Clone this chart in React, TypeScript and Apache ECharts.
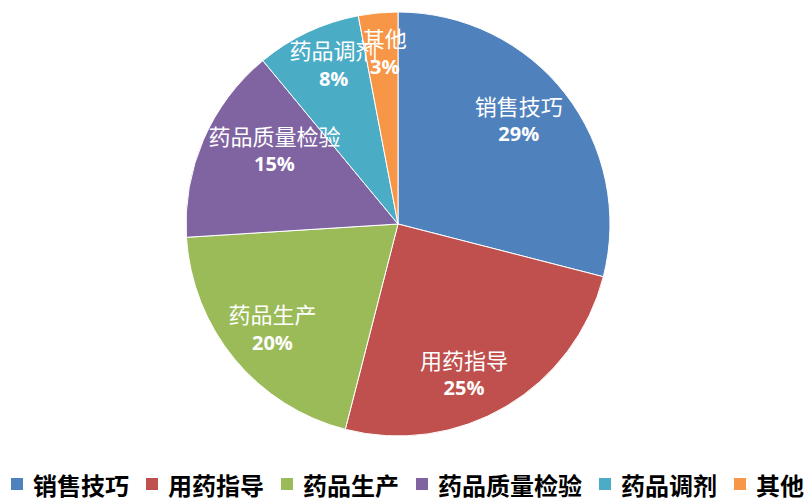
import React, { useEffect, useRef } from "react";
import * as echarts from "echarts";

const categories = ["销售技巧", "用药指导", "药品生产", "药品质量检验", "药品调剂", "其他"];
const values = [29, 25, 20, 15, 8, 3];
const colors = ["#4F81BD", "#C0504D", "#9BBB59", "#8064A2", "#4BACC6", "#F79646"];
// small label nudges (px) to mimic the original layout
const labelOffsets = [
  [-8, -5],
  [-17, 9],
  [0, 0],
  [26, -10],
  [5, -13],
  [2, -10],
];

export default function App() {
  const ref = useRef<HTMLDivElement>(null);
  useEffect(() => {
    if (!ref.current) return;
    const chart = echarts.init(ref.current, null, { renderer: "svg" });
    const data = categories.map((name, i) => ({
      name,
      value: values[i],
      itemStyle: { color: colors[i] },
    }));
    chart.setOption({
      animation: false,
      backgroundColor: "#ffffff",
      legend: {
        data: categories,
        left: 9,
        top: 472,
        padding: 0,
        width: 796,
        icon: "rect",
        itemWidth: 14,
        itemHeight: 14,
        itemGap: 15,
        textStyle: {
          fontSize: 24,
          lineHeight: 24,
          fontWeight: "bold",
          color: "#000",
          fontFamily: "Noto Sans CJK SC",
          padding: [0, 0, 0, 4],
        },
      },
      series: [
        {
          type: "pie",
          center: [398, 224],
          radius: [0, 212],
          startAngle: 90,
          clockwise: true,
          data,
          label: { show: false },
          labelLine: { show: false },
          itemStyle: { borderColor: "#ffffff", borderWidth: 1 },
          emphasis: { disabled: true },
        },
        {
          type: "pie",
          center: [398, 224],
          radius: [108, 212],
          startAngle: 90,
          clockwise: true,
          silent: true,
          avoidLabelOverlap: false,
          data: categories.map((name, i) => ({
            name,
            value: values[i],
            label: { offset: labelOffsets[i] },
          })),
          itemStyle: { color: "rgba(0,0,0,0)", borderWidth: 0 },
          emphasis: { disabled: true },
          labelLine: { show: false },
          labelLayout: { hideOverlap: false },
          label: {
            show: true,
            position: "inside",
            overflow: "none",
            formatter: (p: any) => `{n|${p.name}}\n{p|${p.value}%}`,
            rich: {
              n: {
                fontSize: 22,
                color: "#ffffff",
                fontFamily: "Noto Sans CJK SC",
                lineHeight: 29,
                align: "center",
              },
              p: {
                fontSize: 20,
                fontWeight: "bold",
                color: "#ffffff",
                fontFamily: "Open Sans",
                lineHeight: 29,
                align: "center",
              },
            },
          },
        },
      ],
    });
    return () => chart.dispose();
  }, []);
  return (
    <div
      ref={ref}
      style={{ position: "fixed", left: 0, top: 0, width: 805, height: 498 }}
    />
  );
}
